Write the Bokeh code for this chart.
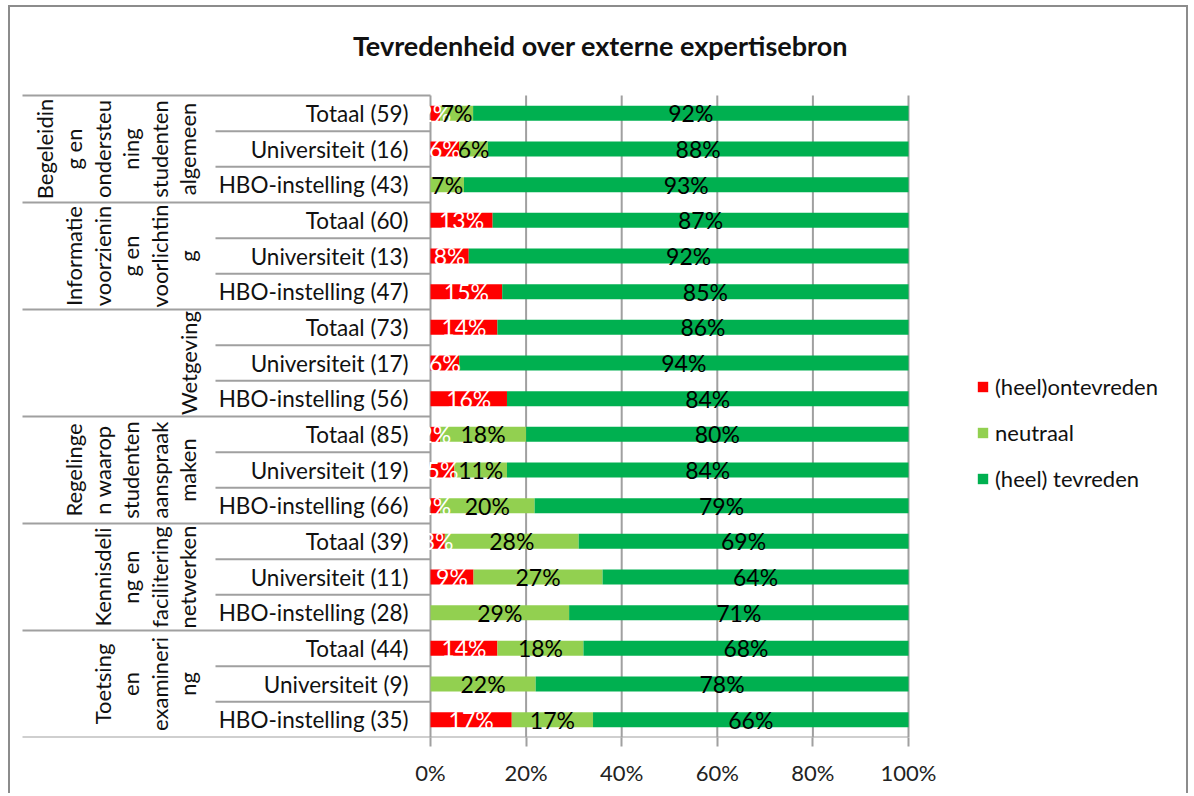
from math import pi
from bokeh.plotting import figure
from bokeh.models import ColumnDataSource, FixedTicker, Legend, LegendItem
from bokeh.core.properties import value
from bokeh.embed import file_html
from bokeh.resources import INLINE

# ---------------- data ----------------
title = "Tevredenheid over externe expertisebron"

group_labels = [
    "Begeleidin\ng en\nondersteu\nning\nstudenten\nalgemeen",
    "Informatie\nvoorzienin\ng en\nvoorlichtin\ng",
    "Wetgeving",
    "Regelinge\nn waarop\nstudenten\naanspraak\nmaken",
    "Kennisdeli\nng en\nfacilitering\nnetwerken",
    "Toetsing\nen\nexamineri\nng",
]

rows = [
    "Totaal (59)", "Universiteit (16)", "HBO-instelling (43)",
    "Totaal (60)", "Universiteit (13)", "HBO-instelling (47)",
    "Totaal (73)", "Universiteit (17)", "HBO-instelling (56)",
    "Totaal (85)", "Universiteit (19)", "HBO-instelling (66)",
    "Totaal (39)", "Universiteit (11)", "HBO-instelling (28)",
    "Totaal (44)", "Universiteit (9)", "HBO-instelling (35)",
]

ontevreden = [2, 6, 0, 13, 8, 15, 14, 6, 16, 2, 5, 2, 3, 9, 0, 14, 0, 17]
neutraal = [7, 6, 7, 0, 0, 0, 0, 0, 0, 18, 11, 20, 28, 27, 29, 18, 22, 17]
tevreden = [92, 88, 93, 87, 92, 85, 86, 94, 84, 80, 84, 79, 69, 64, 71, 68, 78, 66]

series_names = ["(heel)ontevreden", "neutraal", "(heel) tevreden"]
series_colors = ["#FF0000", "#92D050", "#00B050"]
label_colors = ["#FFFFFF", "#000000", "#000000"]

x_ticks = [0, 0.2, 0.4, 0.6, 0.8, 1.0]
x_tick_labels = ["0%", "20%", "40%", "60%", "80%", "100%"]

# ---------------- layout / styling ----------------
FONT = "Lato"
LINE = "#a0a0a0"
TXT = "#111111"
BORDER = "2px solid #8c8c8c"

PX_X = 478.0            # pixels per 100%
PX_Y = 642.0 / 18       # pixels per row
X0_PAGE = 430           # page x of 0%
ROWS_TOP_PAGE = 95

ORIG_X, ORIG_Y = 10, 7  # page position of the canvas (after margin + border)

def dx(page_x):
    return (page_x - X0_PAGE) / PX_X

def dy(page_y):
    return 17.5 - (page_y - ROWS_TOP_PAGE) / PX_Y

n = len(rows)
ys = [n - 1 - i for i in range(n)]
series = [ontevreden, neutraal, tevreden]
totals = [sum(v) for v in zip(*series)]
fracs = [[v / t for v, t in zip(s, totals)] for s in series]

src = ColumnDataSource(dict(y=ys, ont=fracs[0], neu=fracs[1], tev=fracs[2]))

W, H = 1180, 788
BOTTOM = H - (737 - ORIG_Y)
p = figure(
    width=W, height=H,
    x_range=(dx(ORIG_X), dx(ORIG_X + W)), y_range=(dy(ORIG_Y + H - BOTTOM), dy(ORIG_Y)),
    output_backend="svg", toolbar_location=None, y_axis_location=None,
    min_border_left=0, min_border_right=0, min_border_top=0, min_border_bottom=BOTTOM,
    outline_line_color=None,
    styles={"border-top": BORDER, "border-left": BORDER, "border-right": BORDER,
            "margin-left": "8px", "margin-top": "5px"},
)
p.grid.visible = False

ax = p.xaxis[0]
ax.ticker = FixedTicker(ticks=x_ticks)
ax.major_label_overrides = {t: l for t, l in zip(x_ticks, x_tick_labels)}
ax.axis_line_color = None
ax.major_tick_line_color = LINE
ax.major_tick_line_width = 2
ax.major_tick_in = 0
ax.major_tick_out = 9
ax.minor_tick_line_color = None
ax.major_label_standoff = 12
ax.major_label_text_font = FONT
ax.major_label_text_font_size = "22px"
ax.major_label_text_color = "#222222"

# vertical gridlines + value axis line (0%)
p.segment(x0=x_ticks, y0=[-0.5] * len(x_ticks), x1=x_ticks, y1=[17.5] * len(x_ticks),
          line_color=LINE, line_width=2)

# table / category axis lines
x0s, x1s, yl = [], [], []
for i in range(n):
    x0s.append(dx(22) if i % 3 == 0 else dx(215))
    x1s.append(0)
    yl.append(ys[i] + 0.5)
x0s.append(dx(22)); x1s.append(1.0); yl.append(-0.5)   # bottom axis line
p.segment(x0=x0s, y0=yl, x1=x1s, y1=yl, line_color=LINE, line_width=2)

# bars
rs = p.hbar_stack(["ont", "neu", "tev"], y="y", height=0.42, source=src,
                  fill_color=series_colors, line_color=None)

# data labels
lx, ly, lt, lc = [], [], [], []
for i in range(n):
    left = 0.0
    for k in range(3):
        w = fracs[k][i]
        if series[k][i] > 0:
            lx.append(left + w / 2)
            ly.append(ys[i])
            lt.append(f"{series[k][i]}%")
            lc.append(label_colors[k])
        left += w
p.text(x=lx, y=ly, text=lt, text_color=lc, text_align="center", text_baseline="middle",
       text_font=value(FONT), text_font_size="23px")

# row labels
p.text(x=[dx(408)] * n, y=ys, text=rows, text_align="right", text_baseline="middle",
       text_font=value(FONT), text_font_size="22.5px", text_color=TXT)

# group labels
gy = [ys[3 * g + 1] for g in range(len(group_labels))]
p.text(x=[dx(201)] * len(group_labels), y=gy, text=group_labels, angle=pi / 2,
       text_align="center", text_baseline="bottom", text_line_height=1.06,
       text_font=value(FONT), text_font_size="22px", text_color=TXT)

# title
p.text(x=[dx(600)], y=[dy(45)], text=[title], text_align="center", text_baseline="middle",
       text_font=value(FONT), text_font_style="bold", text_font_size="27px", text_color=TXT)

# legend
legend = Legend(items=[LegendItem(label=nm, renderers=[r]) for nm, r in zip(series_names, rs)],
                location=(966, 245), orientation="vertical",
                glyph_width=13, glyph_height=13, label_standoff=6, spacing=19,
                padding=0, margin=0, border_line_color=None, background_fill_alpha=0,
                label_text_font=FONT, label_text_font_size="22px", label_text_color=TXT)
p.add_layout(legend, "center")

open("out.html", "w").write(file_html(p, INLINE))
